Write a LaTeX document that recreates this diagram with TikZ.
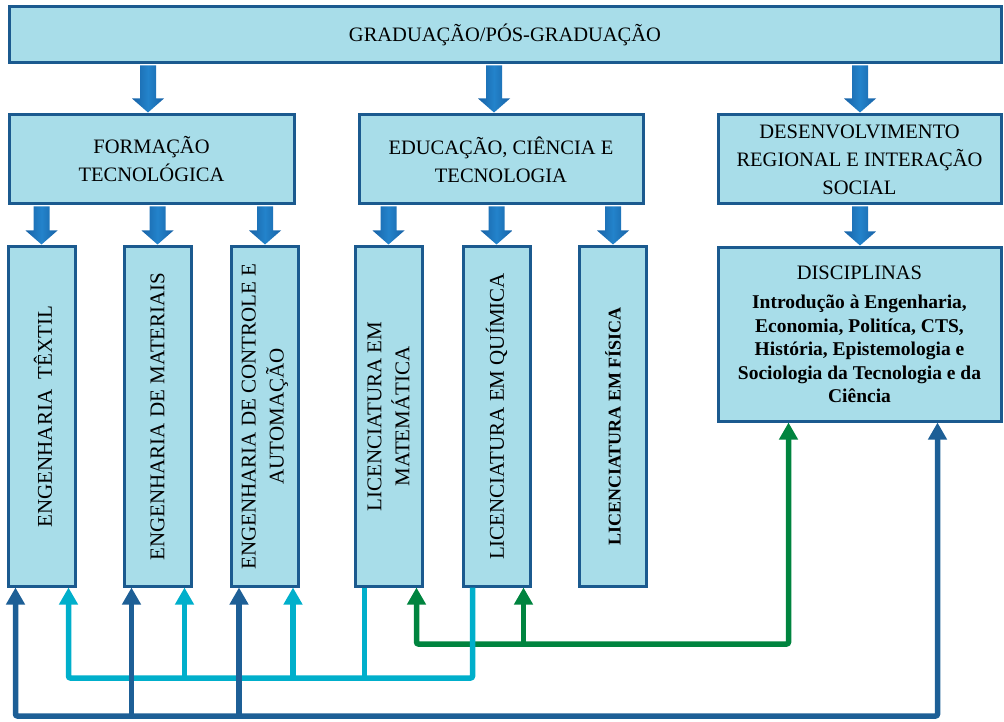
\documentclass[tikz,border=0pt]{standalone}
\usepackage{fontspec}
\setmainfont{Liberation Serif}
\usetikzlibrary{arrows.meta,calc}
\definecolor{boxfill}{HTML}{A8DDE9}
\definecolor{boxline}{HTML}{1B5A8F}
\definecolor{dblue}{HTML}{1D5F96}
\definecolor{lblue}{HTML}{00AFCB}
\definecolor{grn}{HTML}{00843F}
\definecolor{arrA}{HTML}{1862A6}
\definecolor{arrB}{HTML}{2383CB}
\tikzset{
  mainbox/.style={draw=boxline, fill=boxfill, line width=3pt, inner sep=0pt, text=black, align=center},
  hbox/.style={mainbox, font=\fontsize{20.5}{28}\selectfont},
  vbox/.style={mainbox, minimum width=67pt, minimum height=339pt},
  vtext/.style={rotate=90, align=center, inner sep=0pt, font=\fontsize{21}{28}\selectfont},
  conn/.style={line width=5.5pt, rounded corners=2pt, >={Triangle[width=18pt,length=17pt]}},
  dconn/.style={conn, draw=dblue},
  lconn/.style={conn, draw=lblue},
  gconn/.style={conn, draw=grn},
  barrowsty/.style={left color=arrA, right color=arrA, middle color=arrB, draw=none}
}
\newcommand\barrow[3]{%
  \path[barrowsty] let \p1=(#1.south), \p2=([xshift=#3]#2.north) in
    ({\x2-8pt},{\y1-1pt}) -- ({\x2+8pt},{\y1-1pt}) -- ({\x2+8pt},{\y2+15pt}) --
    ({\x2+16pt},{\y2+15pt}) -- ({\x2},{\y2+1pt}) -- ({\x2-16pt},{\y2+15pt}) --
    ({\x2-8pt},{\y2+15pt}) -- cycle;}
\begin{document}
\begin{tikzpicture}[x=1pt,y=-1pt]
\useasboundingbox (0,0) rectangle (1004,722);
% level 1
\node[hbox, minimum width=992pt, minimum height=56pt] (top) at (505,35) {GRADUAÇÃO/PÓS-GRADUAÇÃO};
% level 2
\node[hbox, minimum width=285pt, minimum height=89pt] (form) at (151.5,159.5) {FORMAÇÃO\\TECNOLÓGICA};
\node[hbox, minimum width=284pt, minimum height=89pt] (edu) at (501,159.5) {EDUCAÇÃO, CIÊNCIA E\\TECNOLOGIA};
\node[hbox, minimum width=283pt, minimum height=89pt] (des) at (859.5,159.5) {DESENVOLVIMENTO\\REGIONAL E INTERAÇÃO\\SOCIAL};
% level 3
\node[vbox] (t1) at (41.5,416.5) {};
\node[vbox] (t2) at (157.5,416.5) {};
\node[vbox] (t3) at (265,416.5) {};
\node[vbox] (t4) at (388.5,416.5) {};
\node[vbox] (t5) at (496.5,416.5) {};
\node[vbox] (t6) at (613,416.5) {};
\node[vtext] (x1) at ([xshift=1.5pt]t1.center) {ENGENHARIA\ \ TÊXTIL};
\node[vtext] (x2) at (t2.center) {ENGENHARIA DE MATERIAIS};
\node[vtext] (x3) at (t3.center) {ENGENHARIA DE CONTROLE E\\AUTOMAÇÃO};
\node[vtext] (x4) at (t4.center) {LICENCIATURA EM\\MATEMÁTICA};
\node[vtext] (x5) at (t5.center) {LICENCIATURA EM QUÍMICA};
\node[vtext, font=\fontsize{18}{22}\selectfont\bfseries] (x6) at ([yshift=-10pt]t6.center) {LICENCIATURA EM FÍSICA};
\node[mainbox, minimum width=283pt, minimum height=173pt, font=\fontsize{19.5}{23.5}\selectfont\bfseries] (disc) at (859.5,334.5)
  {{\mdseries\fontsize{20.5}{24}\selectfont DISCIPLINAS}\\[5.5pt]
   Introdução à Engenharia,\\Economia, Politíca, CTS,\\História, Epistemologia e\\Sociologia da Tecnologia e da\\Ciência};
% block arrows
\barrow{top}{form}{-3.5pt}
\barrow{top}{edu}{-7pt}
\barrow{top}{des}{0.5pt}
\barrow{form}{t1}{0pt}
\barrow{form}{t2}{0pt}
\barrow{form}{t3}{0pt}
\barrow{edu}{t4}{0pt}
\barrow{edu}{t5}{0pt}
\barrow{edu}{t6}{0pt}
\barrow{des}{disc}{0.5pt}
% base coordinates
\coordinate (gbase) at (0,644);
\coordinate (lbase) at (0,678);
\coordinate (dbase) at (0,716);
% green
\draw[gconn,<->] ([xshift=-7pt]t4.south east) -- ([xshift=-7pt]t4.south east |- gbase) -| ([xshift=72pt]disc.south west);
\draw[gconn,->] ([xshift=-8pt]t5.south east |- gbase) -- ([xshift=-8pt]t5.south east);
% light blue
\draw[lconn,<-] ([xshift=-8pt]t1.south east) -- ([xshift=-8pt]t1.south east |- lbase) -| ([xshift=11pt]t5.south west);
\draw[lconn,->] ([xshift=-8pt]t2.south east |- lbase) -- ([xshift=-8pt]t2.south east);
\draw[lconn,->] ([xshift=-7pt]t3.south east |- lbase) -- ([xshift=-7pt]t3.south east);
\draw[lconn] ([xshift=11pt]t4.south west) -- ([xshift=11pt]t4.south west |- lbase);
% dark blue
\draw[dconn,<->] ([xshift=9pt]t1.south west) -- ([xshift=9pt]t1.south west |- dbase) -| ([xshift=221pt]disc.south west);
\draw[dconn,->] ([xshift=9pt]t2.south west |- dbase) -- ([xshift=9pt]t2.south west);
\draw[dconn,->] ([xshift=9pt]t3.south west |- dbase) -- ([xshift=9pt]t3.south west);
\end{tikzpicture}
\end{document}
